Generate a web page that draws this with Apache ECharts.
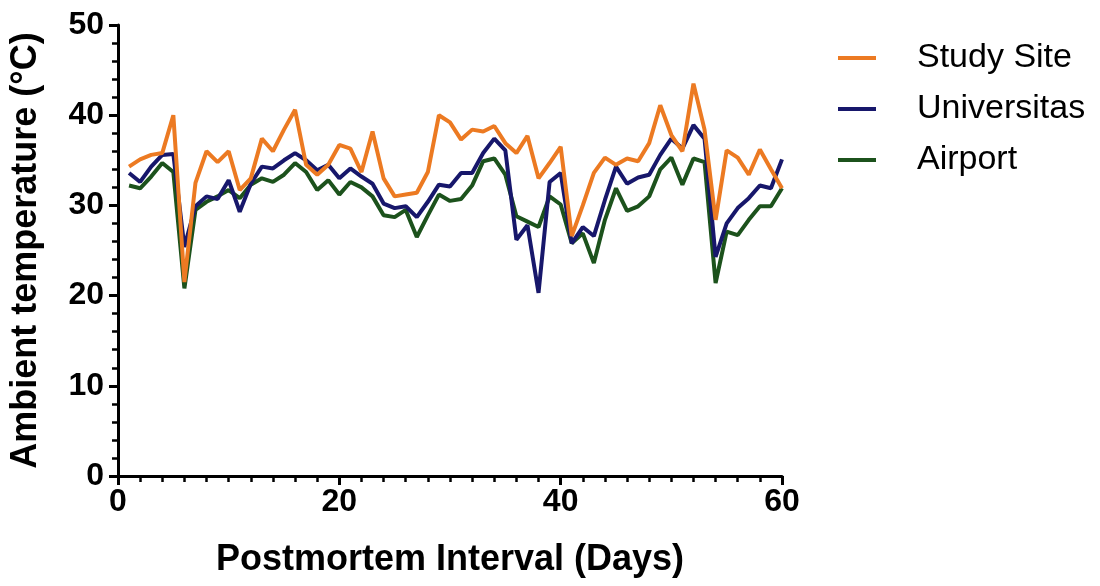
<!DOCTYPE html>
<html>
<head>
    <meta charset="utf-8">
    <title> ECharts </title>
    <script src="https://cdn.jsdelivr.net/npm/echarts@6/dist/echarts.min.js"></script>
</head>
<body style="margin:0;background:#fff;">

<div id='graph_1' style='width:1100px;height:586px;'></div>
<script type='text/javascript'>
    // days after death
    var days = [1, 2, 3, 4, 5, 6, 7, 8, 9, 10,
        11, 12, 13, 14, 15, 16, 17, 18, 19, 20,
        21, 22, 23, 24, 25, 26, 27, 28, 29, 30,
        31, 32, 33, 34, 35, 36, 37, 38, 39, 40,
        41, 42, 43, 44, 45, 46, 47, 48, 49, 50,
        51, 52, 53, 54, 55, 56, 57, 58, 59, 60];

    var study_site = [34.3, 35.1, 35.6, 35.8, 40.0, 21.5, 32.5, 36.0, 34.8, 36.0,
        31.7, 33.0, 37.4, 36.0, 38.4, 40.6, 34.5, 33.4, 34.5, 36.7,
        36.3, 33.7, 38.2, 33.0, 31.0, 31.2, 31.4, 33.7, 40.0, 39.2,
        37.3, 38.4, 38.2, 38.8, 36.9, 35.8, 37.7, 33.0, 34.7, 36.5,
        26.6, 30.0, 33.6, 35.3, 34.5, 35.2, 34.9, 36.9, 41.1, 37.8,
        36.0, 43.5, 38.4, 28.4, 36.1, 35.3, 33.4, 36.2, 34.0, 31.9];

    var universitas = [33.6, 32.6, 34.3, 35.6, 35.7, 25.4, 29.9, 31.0, 30.7, 32.8,
        29.3, 32.4, 34.3, 34.1, 35.0, 35.8, 35.0, 33.9, 34.5, 33.0,
        34.1, 33.2, 32.4, 30.2, 29.7, 29.9, 28.7, 30.4, 32.3, 32.1,
        33.6, 33.6, 35.8, 37.4, 36.1, 26.2, 27.8, 20.3, 32.6, 33.6,
        25.8, 27.6, 26.6, 30.6, 34.3, 32.4, 33.1, 33.4, 35.6, 37.4,
        36.3, 38.9, 37.4, 24.3, 28.0, 29.7, 30.8, 32.2, 31.9, 35.1];

    var airport = [32.2, 31.9, 33.2, 34.7, 33.7, 20.8, 29.5, 30.4, 31.0, 31.7,
        30.8, 32.3, 33.0, 32.6, 33.4, 34.7, 33.7, 31.7, 32.8, 31.2,
        32.6, 32.0, 31.0, 28.9, 28.7, 29.5, 26.5, 28.9, 31.2, 30.5,
        30.7, 32.2, 34.9, 35.2, 33.4, 28.8, 28.2, 27.6, 31.0, 30.1,
        25.8, 26.9, 23.6, 28.4, 31.9, 29.4, 29.9, 31.0, 34.0, 35.3,
        32.3, 35.2, 34.8, 21.4, 27.1, 26.7, 28.4, 29.9, 29.9, 31.9];

    var series_names = ['Study Site', 'Universitas', 'Airport'];
    var series_colors = ['#ec7a22', '#17176b', '#1c521c'];

    function pairs(vals) {
        return vals.map(function (v, i) { return [days[i], v]; });
    }

    var all_vals = [study_site, universitas, airport];
    var series_data = all_vals.map(function (vals, k) {
        return {
            name: series_names[k], type: 'line', symbol: 'none',
            data: pairs(vals),
            lineStyle: {width: 4, color: series_colors[k]},
            itemStyle: {color: series_colors[k]},
            z: 10 - k
        };
    });

    var axis_font = {fontFamily: 'Liberation Sans', fontWeight: 'bold', color: '#000'};

    var myChart = echarts.init(document.getElementById('graph_1'), null, {renderer: 'canvas'});
    var option = {
        animation: false,
        backgroundColor: '#fff',
        grid: {left: 118, right: 318, top: 25, bottom: 110},
        legend: {
            orient: 'vertical', left: 833, top: 36, itemWidth: 38, itemHeight: 4, itemGap: 17,
            icon: 'rect',
            data: series_names,
            textStyle: {fontFamily: 'Liberation Sans', fontSize: 34, color: '#000', padding: [0, 0, 0, 36]}
        },
        xAxis: {
            type: 'value', min: 0, max: 60, interval: 20,
            name: 'Postmortem Interval (Days)', nameLocation: 'middle', nameGap: 66,
            nameTextStyle: Object.assign({fontSize: 36}, axis_font),
            axisLine: {onZero: false, lineStyle: {color: '#000', width: 3}},
            axisTick: {length: 9, lineStyle: {width: 3, color: '#000'}},
            minorTick: {show: true, splitNumber: 10, length: 6, lineStyle: {width: 2.5, color: '#000'}},
            axisLabel: Object.assign({fontSize: 32, margin: 10}, axis_font),
            splitLine: {show: false}
        },
        yAxis: {
            type: 'value', min: 0, max: 50, interval: 10,
            name: 'Ambient temperature (°C)', nameLocation: 'middle', nameGap: 74,
            nameTextStyle: Object.assign({fontSize: 36}, axis_font),
            axisLine: {show: true, onZero: false, lineStyle: {color: '#000', width: 3}},
            axisTick: {show: true, length: 9, lineStyle: {width: 3, color: '#000'}},
            minorTick: {show: true, splitNumber: 5, length: 6, lineStyle: {width: 2.5, color: '#000'}},
            axisLabel: Object.assign({fontSize: 32, margin: 14}, axis_font),
            splitLine: {show: false}
        },
        series: series_data
    };

    myChart.setOption(option);
</script>
</body>
</html>
